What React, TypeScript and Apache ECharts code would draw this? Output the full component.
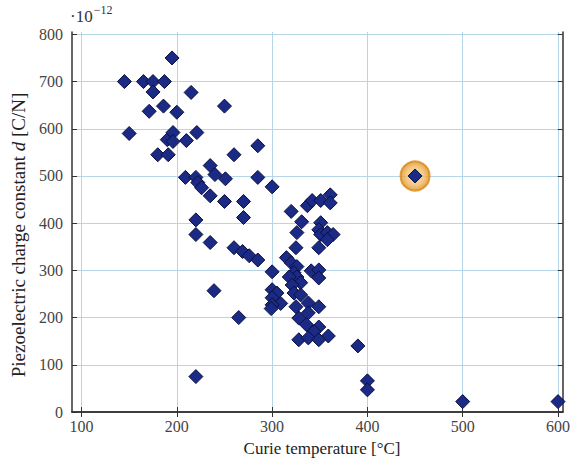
import React, { useEffect, useRef } from "react";
import * as echarts from "echarts";

// Curie temperature [°C], piezoelectric charge constant d [×10^-12 C/N]
const curieTemps: number[] = [
  145, 150, 165, 175, 175, 187, 171, 186, 195, 200, 180, 191, 190, 196, 196, 210, 221, 215, 250,
  209, 220, 222, 226, 235, 240, 235, 251, 250, 260, 270, 270, 285, 285, 300, 220, 220, 235, 260,
  269, 276, 285, 300, 239, 265, 220,
  320, 331, 326, 325, 315, 320, 326, 323, 326, 341, 349, 349, 318, 330, 321, 300, 305, 300, 309,
  323, 330, 325, 338, 349, 328, 338, 336, 349, 344, 359, 328, 338, 349, 390, 400, 400, 500, 600,
  337, 342, 351, 361, 361, 351, 349, 351, 358, 364, 358, 349, 300, 299,
];
const chargeConstants: number[] = [
  700, 590, 700, 700, 678, 700, 637, 648, 750, 635, 545, 545, 577, 592, 573, 575, 592, 677, 648,
  497, 497, 486, 475, 522, 503, 458, 494, 446, 545, 446, 412, 564, 497, 477, 407, 376, 359, 348,
  340, 331, 322, 297, 257, 200, 75,
  425, 403, 380, 348, 327, 316, 308, 295, 286, 299, 301, 284, 286, 274, 269, 259, 252, 242, 230,
  252, 248, 223, 231, 223, 199, 210, 185, 180, 170, 161, 153, 157, 153, 140, 66, 47, 22, 22,
  437, 448, 448, 460, 443, 401, 386, 376, 380, 376, 365, 348, 227, 219,
];
const highlightedMaterial: number[] = [450, 500];

const xTicks: number[] = [100, 200, 300, 400, 500, 600];
const yTicks: number[] = [0, 100, 200, 300, 400, 500, 600, 700, 800];

const SERIF = "'Liberation Serif', 'DejaVu Serif', serif";

export default function App() {
  const ref = useRef<HTMLDivElement>(null);
  useEffect(() => {
    if (!ref.current) return;
    const chart = echarts.init(ref.current, null, { renderer: "svg" });
    const points = curieTemps.map((t, i) => [t, chargeConstants[i]]);
    const gridColor = "#b5d6e6";
    const axisColor = "#333";
    chart.setOption({
      animation: false,
      backgroundColor: "#ffffff",
      grid: { left: 72, top: 32, right: 3, bottom: 47, containLabel: false },
      xAxis: [
        {
          type: "value",
          position: "bottom",
          min: 90,
          max: 605,
          axisLine: { show: true, onZero: false, lineStyle: { color: axisColor, width: 1.5 } },
          axisTick: { show: true, inside: true, length: 5, customValues: xTicks, lineStyle: { color: axisColor } },
          axisLabel: {
            customValues: xTicks,
            margin: 6,
            color: "#444",
            fontFamily: SERIF,
            fontSize: 16,
          },
          splitLine: { show: true, lineStyle: { color: gridColor, width: 1 } },
        },
        {
          type: "value",
          position: "top",
          min: 90,
          max: 605,
          axisLine: { show: true, lineStyle: { color: axisColor, width: 1.5 } },
          axisTick: { show: true, inside: true, length: 5, customValues: xTicks, lineStyle: { color: axisColor } },
          axisLabel: { show: false },
          splitLine: { show: false },
        },
      ],
      yAxis: [
        {
          type: "value",
          position: "left",
          min: 0,
          max: 805,
          axisLine: { show: true, onZero: false, lineStyle: { color: axisColor, width: 1.5 } },
          axisTick: { show: true, inside: true, length: 5, customValues: yTicks, lineStyle: { color: axisColor } },
          axisLabel: {
            customValues: yTicks,
            margin: 9,
            color: "#444",
            fontFamily: SERIF,
            fontSize: 16,
          },
          splitLine: { show: true, lineStyle: { color: gridColor, width: 1 } },
        },
        {
          type: "value",
          position: "right",
          min: 0,
          max: 805,
          axisLine: { show: true, lineStyle: { color: axisColor, width: 1.5 } },
          axisTick: { show: true, inside: true, length: 5, customValues: yTicks, lineStyle: { color: axisColor } },
          axisLabel: { show: false },
          splitLine: { show: false },
        },
      ],
      series: [
        {
          type: "scatter",
          xAxisIndex: 0,
          yAxisIndex: 0,
          symbol: "circle",
          symbolSize: 29,
          data: [highlightedMaterial],
          itemStyle: {
            color: {
              type: "radial",
              x: 0.5,
              y: 0.5,
              r: 0.5,
              colorStops: [
                { offset: 0, color: "#f6d9a4" },
                { offset: 0.6, color: "#f0bd6c" },
                { offset: 1, color: "#e2901f" },
              ],
            },
            borderColor: "#dc8714",
            borderWidth: 2,
          },
          z: 2,
        },
        {
          type: "scatter",
          xAxisIndex: 0,
          yAxisIndex: 0,
          symbol: "diamond",
          symbolSize: 14,
          data: [...points, highlightedMaterial],
          itemStyle: { color: "#1b2a84", borderColor: "#0b1040", borderWidth: 1, opacity: 1 },
          z: 3,
        },
      ],
      graphic: [
        {
          type: "text",
          left: 70,
          top: 4,
          style: {
            text: "{a|·10}{s|−12}",
            rich: {
              a: { fontFamily: SERIF, fontSize: 17, fill: "#333", verticalAlign: "bottom" },
              s: { fontFamily: SERIF, fontSize: 12, fill: "#333", verticalAlign: "top", padding: [0, 0, 9, 1] },
            },
          },
        },
        {
          type: "text",
          x: 18,
          y: 235,
          rotation: Math.PI / 2,
          style: {
            text: "{a|Piezoelectric charge constant }{i|d}{a| [C/N]}",
            align: "center",
            verticalAlign: "middle",
            rich: {
              a: { fontFamily: SERIF, fontSize: 19, fill: "#222" },
              i: { fontFamily: SERIF, fontSize: 19, fontStyle: "italic", fill: "#222" },
            },
          },
        },
        {
          type: "text",
          x: 322,
          y: 448,
          style: {
            text: "Curie temperature [°C]",
            align: "center",
            verticalAlign: "middle",
            fontFamily: SERIF,
            fontSize: 17,
            fill: "#222",
          },
        },
      ],
    });
    return () => chart.dispose();
  }, []);
  return <div ref={ref} style={{ width: 573, height: 459, position: "absolute", left: 0, top: 0 }} />;
}
